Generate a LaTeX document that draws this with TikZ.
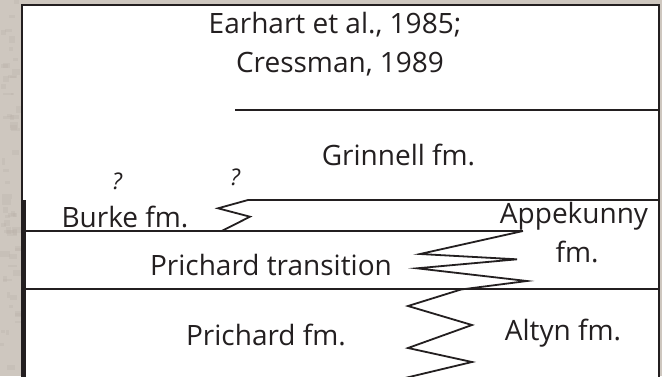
\documentclass[tikz,border=0pt]{standalone}
\usepackage{fontspec}
\setmainfont{Open Sans}
\definecolor{stone}{RGB}{206,199,191}
\definecolor{stonedark}{RGB}{188,180,172}
\definecolor{ink}{RGB}{35,31,32}
\begin{document}
\begin{tikzpicture}[x=1pt,y=-1pt,
  contact/.style={draw=ink, line width=1.8pt, line join=miter},
  frame/.style={draw=ink, line width=2.4pt},
  lbl/.style={font=\fontsize{28}{30}\selectfont, text=ink, inner sep=0pt, anchor=base},
  qm/.style={font=\itshape\fontsize{23}{25}\selectfont, text=ink, inner sep=0pt, anchor=base}]
\useasboundingbox (0,0) rectangle (662,376);
% stone backdrop behind the panel
\fill[stone] (0,0) rectangle (662,376);
\pgfmathsetseed{11}
\foreach \k in {1,...,60}{
  \pgfmathsetmacro{\yy}{rnd*376}
  \pgfmathsetmacro{\xx}{rnd*16}
  \pgfmathsetmacro{\hh}{2+rnd*5}
  \pgfmathsetmacro{\ww}{3+rnd*8}
  \fill[stonedark, opacity=0.35] (\xx,\yy) rectangle (\xx+\ww,\yy+\hh);
}
% white chart panel
\fill[white] (22,5) rectangle (659,376);
\begin{scope}
\clip (0,0) rectangle (662,376);
\draw[frame] (22,380) -- (22,5) -- (659,5) -- (659,380);
\draw[draw=ink, line width=3.6pt] (24.6,200) -- (24.6,380);

% named contact points
\coordinate (gT) at (235,110);
\coordinate (gTR) at (659,110);
\coordinate (aT) at (248,200);
\coordinate (aTR) at (659,200);
\coordinate (bB) at (24,231);
\coordinate (zA) at (523,231);
\coordinate (pB) at (24,289);
\coordinate (pBR) at (659,289);

% Grinnell top
\draw[contact] (gT) -- (gTR);
% Grinnell base with Burke interfingering
\draw[contact] (aTR) -- (aT) -- (218,208.3) -- (250,216.7) -- (221.7,231);
% Burke base
\draw[contact] (bB) -- (zA);
% Prichard transition base
\draw[contact] (pB) -- (pBR);
% Appekunny / Altyn interfingering
\draw[contact] (zA) -- (420,254) -- (517,259.3) -- (417,268.3) -- (527,281)
  -- (461,289.5) -- (408,306) -- (472,325) -- (408,348) -- (472,362) -- (405,378);
\end{scope}

% labels
\node[lbl] (ref1) at (335,33) {Earhart et al., 1985;};
\node[lbl] (ref2) at (340,72) {Cressman, 1989};
\node[lbl] (grin) at (398.5,165) {Grinnell fm.};
\node[qm]  (q1) at (117,189) {?};
\node[qm]  (q2) at (235,185) {?};
\node[lbl] (burke) at (125,227) {Burke fm.};
\node[lbl] (appe1) at (574,223) {Appekunny};
\node[lbl] (appe2) at (577,262) {fm.};
\node[lbl] (ptr) at (271,275) {Prichard transition};
\node[lbl] (pri) at (266,345) {Prichard fm.};
\node[lbl] (alt) at (563,340) {Altyn fm.};
\end{tikzpicture}
\end{document}
